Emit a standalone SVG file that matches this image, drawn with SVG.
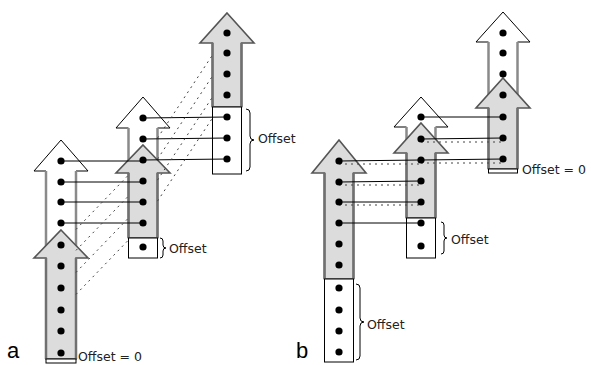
<svg xmlns="http://www.w3.org/2000/svg" width="591" height="365" viewBox="0 0 591 365">
<style>
.w{fill:#fff;stroke:#000;stroke-width:1}
.g{fill:#dcdcdc;stroke:#555;stroke-width:1.6}
.s{stroke:#8a8a8a;stroke-width:2.5;fill:none}
.sg{stroke:#707070;stroke-width:2.5;fill:none}
.bx{fill:#fff;stroke:#000;stroke-width:1}
.ln{stroke:#000;stroke-width:1;fill:none}
.dl{stroke:#444;stroke-width:1;stroke-dasharray:2 4;fill:none}
.br{stroke:#000;stroke-width:1;fill:none}
.t{font-family:"DejaVu Sans",sans-serif;font-size:12.5px;fill:#222}
.lab{font-family:"Liberation Sans",sans-serif;font-size:22px;fill:#000}
circle{fill:#000}
</style>
<rect width="591" height="365" fill="#fff"/>
<g id="a-left">
<polygon class="w" points="61,140 88,171 76,171 76,258 46,258 46,171 34,171"/>
<path class="s" d="M46,171V258M76,171V258"/>
<polygon class="g" points="61,230 88,258 76,258 76,359 46,359 46,258 34,258"/>
<path class="sg" d="M46,258V359M76,258V359"/>
<rect class="bx" x="46" y="359" width="30" height="4"/>
</g>
<g id="a-mid">
<polygon class="w" points="143,97 170,128 157.5,128 157.5,173 128.5,173 128.5,128 116,128"/>
<path class="s" d="M128.5,128V173M157.5,128V173"/>
<polygon class="g" points="143,145 170,173 157.5,173 157.5,238 128.5,238 128.5,173 116,173"/>
<path class="sg" d="M128.5,173V238M157.5,173V238"/>
<rect class="bx" x="128.5" y="238" width="29" height="20"/>
</g>
<g id="a-right">
<polygon class="g" points="227,13 254,43 241.5,43 241.5,107 212.5,107 212.5,43 200,43"/>
<path class="sg" d="M212.5,43V107M241.5,43V107"/>
<rect class="bx" x="212.5" y="107" width="29" height="67"/>
</g>
<g id="b-left">
<polygon class="g" points="339,140 366,173 353.5,173 353.5,279 324.5,279 324.5,173 312,173"/>
<path class="sg" d="M324.5,173V279M353.5,173V279"/>
<rect class="bx" x="324.5" y="279" width="29" height="83"/>
</g>
<g id="b-mid">
<polygon class="w" points="421,97 448,127 435.5,127 435.5,153 406.5,153 406.5,127 394,127"/>
<path class="s" d="M406.5,127V153M435.5,127V153"/>
<polygon class="g" points="421,123 448,153 435.5,153 435.5,218 406.5,218 406.5,153 394,153"/>
<path class="sg" d="M406.5,153V218M435.5,153V218"/>
<rect class="bx" x="406.5" y="218" width="29" height="40"/>
</g>
<g id="b-right">
<polygon class="w" points="503,12 530,42 517.5,42 517.5,108 488.5,108 488.5,42 476,42"/>
<path class="s" d="M488.5,42V108M517.5,42V108"/>
<polygon class="g" points="503,78 530,108 517.5,108 517.5,169 488.5,169 488.5,108 476,108"/>
<path class="sg" d="M488.5,108V169M517.5,108V169"/>
<rect class="bx" x="488.5" y="169" width="29" height="4"/>
</g>
<g id="connectors">
<path class="ln" d="M61,161H143M61,182H143M61,202H143M61,223H143"/>
<path class="ln" d="M143,118L227,117M143,139L227,138M143,160L227,159"/>
<path class="dl" d="M76,229.4L128.5,175M76,250.4L128.5,196M76,272.4L128.5,218M76,294.4L128.5,240"/>
<path class="dl" d="M157.5,138.1L212.5,55M157.5,159.1L212.5,76M157.5,180.1L212.5,97M157.5,201.1L212.5,118"/>
<path class="ln" d="M339,161L421,160M339,182L421,181M339,202H421M339,223H421"/>
<path class="dl" d="M339,164H421M339,185H421M339,205H421"/>
<path class="ln" d="M421,117H503M421,139L503,138M421,160L503,159"/>
<path class="dl" d="M421,142H503M421,163H503"/>
</g>
<g id="dots">
<circle cx="61" cy="161" r="3.6"/><circle cx="61" cy="182" r="3.6"/><circle cx="61" cy="202" r="3.6"/><circle cx="61" cy="223" r="3.6"/><circle cx="61" cy="245" r="3.6"/><circle cx="61" cy="266" r="3.6"/><circle cx="61" cy="288" r="3.6"/><circle cx="61" cy="310" r="3.6"/><circle cx="61" cy="331" r="3.6"/><circle cx="61" cy="353" r="3.6"/>
<circle cx="143" cy="118" r="3.6"/><circle cx="143" cy="139" r="3.6"/><circle cx="143" cy="160" r="3.6"/><circle cx="143" cy="181" r="3.6"/><circle cx="143" cy="202" r="3.6"/><circle cx="143" cy="223" r="3.6"/><circle cx="143" cy="247" r="3.6"/>
<circle cx="227" cy="33" r="3.6"/><circle cx="227" cy="53" r="3.6"/><circle cx="227" cy="74" r="3.6"/><circle cx="227" cy="95" r="3.6"/><circle cx="227" cy="117" r="3.6"/><circle cx="227" cy="138" r="3.6"/><circle cx="227" cy="159" r="3.6"/>
<circle cx="339" cy="161" r="3.6"/><circle cx="339" cy="182" r="3.6"/><circle cx="339" cy="202" r="3.6"/><circle cx="339" cy="223" r="3.6"/><circle cx="339" cy="244" r="3.6"/><circle cx="339" cy="265" r="3.6"/><circle cx="339" cy="288" r="3.6"/><circle cx="339" cy="310" r="3.6"/><circle cx="339" cy="331" r="3.6"/><circle cx="339" cy="352" r="3.6"/>
<circle cx="421" cy="117" r="3.6"/><circle cx="421" cy="139" r="3.6"/><circle cx="421" cy="160" r="3.6"/><circle cx="421" cy="181" r="3.6"/><circle cx="421" cy="202" r="3.6"/><circle cx="421" cy="223" r="3.6"/><circle cx="421" cy="246" r="3.6"/>
<circle cx="503" cy="33" r="3.6"/><circle cx="503" cy="53" r="3.6"/><circle cx="503" cy="74" r="3.6"/><circle cx="503" cy="95" r="3.6"/><circle cx="503" cy="117" r="3.6"/><circle cx="503" cy="138" r="3.6"/><circle cx="503" cy="159" r="3.6"/>
</g>
<g id="braces">
<path class="br" d="M160,238q3,0 3,3v4q0,3 3,3q-3,0 -3,3v4q0,3 -3,3"/>
<path class="br" d="M246,109q4,0 4,4v23q0,4 4,4q-4,0 -4,4v23q0,4 -4,4"/>
<path class="br" d="M356,284q4,0 4,4v30q0,4 4,4q-4,0 -4,4v30q0,4 -4,4"/>
<path class="br" d="M441,222q3,0 3,3v10q0,3 3,3q-3,0 -3,3v10q0,3 -3,3"/>
</g>
<g id="labels">
<text class="t" x="169" y="253">Offset</text>
<text class="t" x="258" y="143">Offset</text>
<text class="t" x="78" y="361">Offset = 0</text>
<text class="t" x="367" y="329">Offset</text>
<text class="t" x="451" y="244">Offset</text>
<text class="t" x="522" y="174">Offset = 0</text>
<text class="lab" x="7" y="358">a</text>
<text class="lab" x="296" y="358">b</text>
</g>
</svg>
